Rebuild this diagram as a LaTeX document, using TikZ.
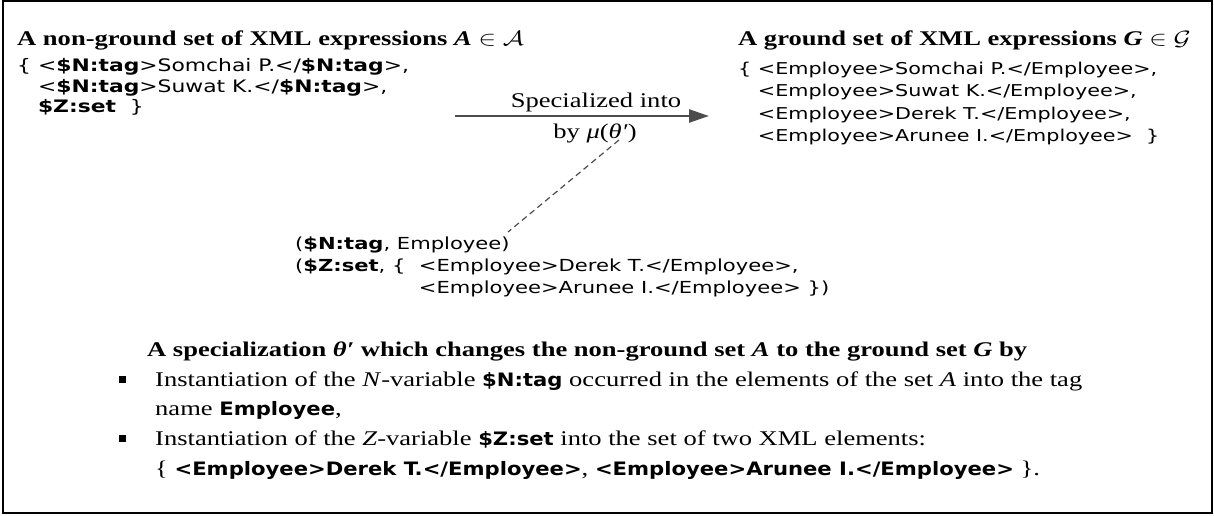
\documentclass[tikz,border=0pt]{standalone}
\usepackage{graphicx}
\usepackage{fontspec}
\setmainfont[FakeStretch=1.27]{Liberation Serif}
\setsansfont[FakeStretch=1.27]{DejaVu Sans}
\newfontfamily\condfont[FakeStretch=1.27]{DejaVu Sans Condensed}
\usetikzlibrary{arrows.meta}
\newcommand{\svfl}{\sffamily\fontsize{17.2}{20}\selectfont}
\newcommand{\svfr}{\sffamily\fontsize{16.3}{20}\selectfont}
\newcommand{\svf}{\sffamily\fontsize{16.6}{20}\selectfont}
\newcommand{\srf}{\rmfamily\fontsize{20.9}{25}\selectfont}
\newcommand{\cb}[1]{{\condfont\bfseries\fontsize{18.5}{25}\selectfont #1}}
\newcommand{\wm}[1]{\scalebox{1.27}[1]{$#1$}}
\definecolor{arrgray}{HTML}{4D4D4D}
\tikzset{
  sv/.style={anchor=base west, inner sep=0pt, font=\svf},
  svl/.style={anchor=base west, inner sep=0pt, font=\svfl},
  svr/.style={anchor=base west, inner sep=0pt, font=\svfr},
  sr/.style={anchor=base west, inner sep=0pt, font=\srf},
  srb/.style={anchor=base west, inner sep=0pt, font=\srf\bfseries},
  lbl/.style={anchor=base, inner sep=0pt, font=\srf},
  bul/.style={fill=black, inner sep=0pt, minimum size=7pt},
  mainarrow/.style={arrgray, line width=2.5pt, -{Triangle[length=20pt,width=13pt]}},
  dashlink/.style={arrgray, line width=1.2pt, dash pattern=on 6pt off 4pt},
}
\begin{document}
\begin{tikzpicture}[x=1pt,y=-1pt]
\useasboundingbox (0,0) rectangle (1214,516);
\draw[line width=2pt] (3,1) rectangle (1211.5,513);
% left block
\node[srb] (lt) at (17,46) {A non-ground set of XML expressions \textit{A} \wm{\in} \wm{\mathcal{A}}};
\node[svl] (l1) at (17,72) {\{ <\textbf{\$N:tag}>Somchai P.</\textbf{\$N:tag}>,};
\node[svl] (l2) at (17,93) {\phantom{\{ }<\textbf{\$N:tag}>Suwat K.</\textbf{\$N:tag}>,};
\node[svl] (l3) at (17,113) {\phantom{\{ }\textbf{\$Z:set}\ \ \}};
% right block
\node[srb] (rt) at (738,46) {A ground set of XML expressions \textit{G} \wm{\in} \wm{\mathcal{G}}};
\node[svr] (r1) at (738,75) {\{ <Employee>Somchai P.</Employee>,};
\node[svr] (r2) at (738,97) {\phantom{\{ }<Employee>Suwat K.</Employee>,};
\node[svr] (r3) at (738,119) {\phantom{\{ }<Employee>Derek T.</Employee>,};
\node[svr] (r4) at (738,141) {\phantom{\{ }<Employee>Arunee I.</Employee>\ \ \}};
% arrow
\coordinate (as) at (455,116);
\coordinate (ae) at (709,116);
\draw[mainarrow] (as) -- (ae);
\node[lbl] (sp1) at (596,107) {Specialized into};
\node[lbl] (sp2) at (595,138) {by \textit{μ}(\textit{θ′})};
% substitution
\node[sv] (m1) at (295,249) {(\textbf{\$N:tag}, Employee)};
\node[sv] (m2) at (295,271) {(\textbf{\$Z:set}, \{\ \ <Employee>Derek T.</Employee>,};
\node[sv] (m3) at (295,293) {\phantom{(\textbf{\$Z:set}, \{\ \ }<Employee>Arunee I.</Employee> \})};
\coordinate (d1) at (619,140);
\coordinate (d2) at (508,232);
\draw[dashlink] (d1) -- (d2);
% explanation
\node[srb] (h) at (147,356) {A specialization \textit{θ′} which changes the non-ground set \textit{A} to the ground set \textit{G} by};
\node[bul] (b1) at (122,379) {};
\node[sr] (t1) at (155,386) {Instantiation of the \textit{N}-variable \cb{\$N:tag} occurred in the elements of the set \textit{A} into the tag};
\node[sr] (t2) at (155,415) {name \cb{Employee},};
\node[bul] (b2) at (122,438) {};
\node[sr] (t3) at (155,445) {Instantiation of the \textit{Z}-variable \cb{\$Z:set} into the set of two XML elements:};
\node[sr] (t4) at (155,475) {\{ \cb{<Employee>Derek T.</Employee>}, \cb{<Employee>Arunee I.</Employee>} \}.};
\end{tikzpicture}
\end{document}
